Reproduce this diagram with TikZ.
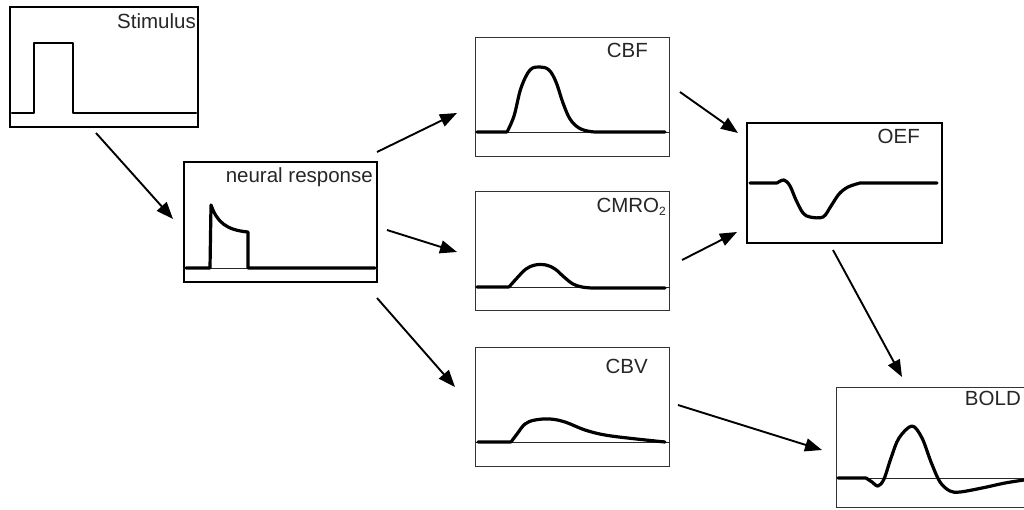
\documentclass[tikz,border=0pt]{standalone}
\usepackage{fontspec}
\setmainfont{Liberation Sans}
\usetikzlibrary{arrows.meta}

\begin{document}
\begin{tikzpicture}[x=1pt,y=-1pt,
  framethick/.style={draw=black, line width=1.7pt, inner sep=0pt},
  framethin/.style={draw=black!80, line width=1pt, inner sep=0pt},
  baseln/.style={draw=black!85, line width=0.9pt},
  trace/.style={draw=black, line width=3.2pt, line join=round, line cap=round},
  lbl/.style={anchor=base east, inner sep=0pt, text=black!85,
              font=\fontsize{20.5}{24}\selectfont},
  flow/.style={draw=black, line width=1.9pt,
               -{Triangle[length=17pt,width=13pt]}}
]
\useasboundingbox (0,0) rectangle (1024,509);

% ---- panels ----
\node[framethick, minimum width=188pt, minimum height=120pt] (stim)   at (104,67)  {};
\node[framethick, minimum width=193pt, minimum height=120pt] (neural) at (280.5,222) {};
\node[framethin,  minimum width=194pt, minimum height=119pt] (cbf)    at (572,96.5) {};
\node[framethin,  minimum width=194pt, minimum height=119pt] (cmro)   at (572,250.5) {};
\node[framethin,  minimum width=194pt, minimum height=119pt] (cbv)    at (572,406.5) {};
\node[framethick, minimum width=195pt, minimum height=120pt] (oef)    at (844.5,183) {};
\node[framethin,  minimum width=194pt, minimum height=120pt] (bold)   at (933,447) {};

% ---- panel titles ----
\node[lbl] (tstim)   at (196,28)  {Stimulus};
\node[lbl] (tneural) at (373,182) {neural response};
\node[lbl] (tcbf)    at (648,57)  {CBF};
\node[lbl] (tcmro)   at (666,212) {CMRO\raisebox{-0.35ex}{\fontsize{12}{12}\selectfont 2}};
\node[lbl] (tcbv)    at (648,373) {CBV};
\node[lbl] (toef)    at (920,143) {OEF};
\node[lbl] (tbold)   at (1021,405) {BOLD};

% ---- zero lines ----
\draw[baseln] (neural.west |- 0,268) -- (neural.east |- 0,268);
\draw[baseln] (cbf.west |- 0,132)   -- (cbf.east |- 0,132);
\draw[baseln] (cmro.west |- 0,287)  -- (cmro.east |- 0,287);
\draw[baseln] (cbv.west |- 0,442)   -- (cbv.east |- 0,442);
\draw[baseln] (bold.west |- 0,478)  -- (1024,478);

% ---- time courses ----
% stimulus block
\draw[trace, line width=2.8pt] (12,113) -- (34,113) -- (34,43) -- (73,43) -- (73,113) -- (196,113);
% neural response: onset transient, adaptation, offset
\draw[trace] (186,268) -- (210,268) -- (211,205)
  .. controls (217,222) and (226,230) .. (248,232) -- (248,268) -- (375,268);
% CBF
\draw[trace] (477,132) -- (507,132)
  plot[smooth, tension=0.6] coordinates {(507,132) (514,116) (521,88) (530,70) (540,67)
     (549,70) (556,82) (563,103) (570,119) (579,128) (590,131.5) (600,132)}
  -- (665,132);
% CMRO2
\draw[trace] (477,287) -- (509,287)
  plot[smooth, tension=0.6] coordinates {(509,287) (517,278) (526,269) (535,265) (546,265)
     (555,269) (564,277) (573,284) (582,287) (592,288)}
  -- (665,288);
% CBV
\draw[trace] (478,442) -- (511,442)
  plot[smooth, tension=0.6] coordinates {(511,442) (517,434) (525,424) (535,420) (550,419)
     (565,422) (585,430) (605,435) (632,438.5) (665,442)};
% OEF
\draw[trace] (750,183) -- (777,183)
  plot[smooth, tension=0.55] coordinates {(777,183) (784,180) (790,186) (796,200) (803,213)
     (810,217) (823,217) (831,206) (839,194) (848,187) (860,183)}
  -- (937,183);
% BOLD
\draw[trace] (838,478) -- (866,478)
  plot[smooth, tension=0.55] coordinates {(866,478) (872,482) (878,486) (884,479) (891,458)
     (899,438) (912,426) (922,438) (931,462) (940,482) (950,491) (960,492) (982,488)
     (1005,483) (1024,480)};

% ---- connection points ----
\coordinate (stim-out)    at (96,133);
\coordinate (neural-in)   at (173,219);
\coordinate (neural-o1)   at (377,152);
\coordinate (neural-o2)   at (387,230);
\coordinate (neural-o3)   at (377,298);
\coordinate (cbf-in)      at (457,113);
\coordinate (cmro-in)     at (457,252);
\coordinate (cbv-in)      at (455,387);
\coordinate (cbf-out)     at (680,92);
\coordinate (cmro-out)    at (682,260);
\coordinate (oef-in1)     at (738,133);
\coordinate (oef-in2)     at (737,232);
\coordinate (oef-out)     at (833,250);
\coordinate (cbv-out)     at (678,405);
\coordinate (bold-in1)    at (902,377);
\coordinate (bold-in2)    at (822,450);

% ---- arrows ----
\draw[flow] (stim-out)  -- (neural-in);
\draw[flow] (neural-o1) -- (cbf-in);
\draw[flow] (neural-o2) -- (cmro-in);
\draw[flow] (neural-o3) -- (cbv-in);
\draw[flow] (cbf-out)   -- (oef-in1);
\draw[flow] (cmro-out)  -- (oef-in2);
\draw[flow] (oef-out)   -- (bold-in1);
\draw[flow] (cbv-out)   -- (bold-in2);
\end{tikzpicture}
\end{document}
